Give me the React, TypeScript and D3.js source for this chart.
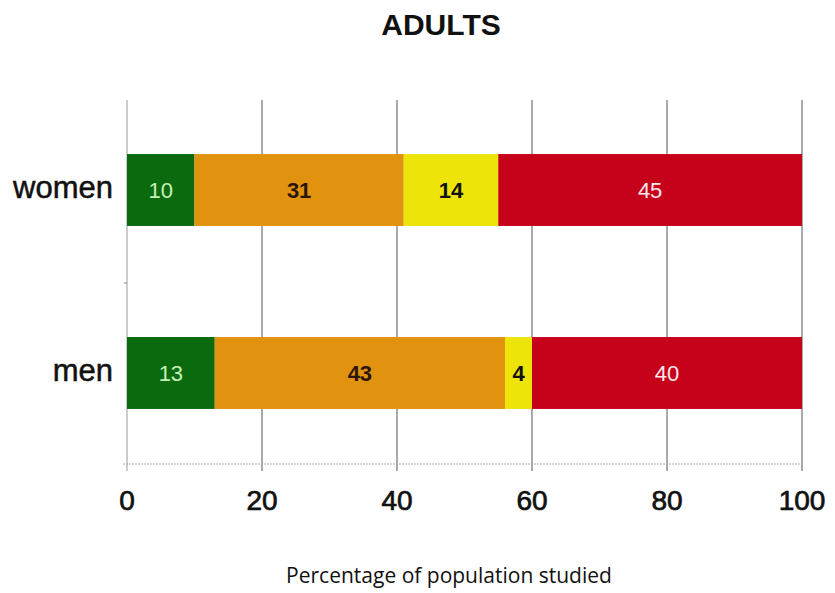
import React from "react";
import * as d3 from "d3";

const categories = ["women", "men"];
const segments = ["green", "orange", "yellow", "red"];
const womenValues = [10, 31, 14, 45];
const menValues = [13, 43, 4, 40];
const xTicks = [0, 20, 40, 60, 80, 100];
const colors = ["#0b6a0e", "#e1930f", "#ede40a", "#c5021a"];
const labelColors = ["#c6f0b8", "#2b1408", "#111111", "#ffe8ec"];

const W = 835, H = 593;
const FONT = "Liberation Sans, Arial, Helvetica, sans-serif";

export default function App() {
  const x = d3.scaleLinear().domain([0, 100]).range([127, 802]);
  const y = d3.scaleBand().domain(categories).range([118, 445]).paddingInner(0.607).paddingOuter(0.197);
  const data = [womenValues, menValues];
  return (
    <svg width={W} height={H} style={{ position: "absolute", left: 0, top: 0 }}>
      <rect width={W} height={H} fill="#fff" />
      <text x={441} y={35} textAnchor="middle" fontFamily={FONT} fontWeight="bold" fontSize={30} fill="#111">ADULTS</text>
      {xTicks.map((t) => (
        <line key={t} x1={x(t)} x2={x(t)} y1={100} y2={471} stroke={t === 0 ? "#9a9a9a" : "#555"} strokeWidth={1} />
      ))}
      <line x1={x(0) - 4} x2={x(100)} y1={464} y2={464} stroke="#aaa" strokeWidth={1} strokeDasharray="2,1" />
      <line x1={x(0) - 3} x2={x(0)} y1={283} y2={283} stroke="#888" />
      {categories.map((c, i) => {
        const stack = d3.cumsum(data[i]);
        const cy = y(c)! + y.bandwidth() / 2;
        return (
          <g key={c}>
            {data[i].map((v, j) => {
              const x0 = j === 0 ? 0 : stack[j - 1];
              const x1 = stack[j];
              return (
                <g key={segments[j]}>
                  <rect x={x(x0)} y={y(c)!} width={x(x1) - x(x0)} height={y.bandwidth()} fill={colors[j]} />
                  <text x={(x(x0) + x(x1)) / 2} y={cy + 8} textAnchor="middle"
                    fontFamily={FONT} fontSize={22}
                    fontWeight={j === 1 || j === 2 ? "bold" : "normal"} fill={labelColors[j]}>{v}</text>
                </g>
              );
            })}
            <text x={113} y={cy + 8} textAnchor="end" fontFamily={FONT} fontSize={31} fill="#111" stroke="#111" strokeWidth={0.5}>{c}</text>
          </g>
        );
      })}
      {xTicks.map((t) => (
        <text key={"l" + t} x={x(t)} y={510} textAnchor="middle" fontFamily={FONT} fontSize={28} fill="#111" stroke="#111" strokeWidth={0.7}>{t}</text>
      ))}
      <text x={449} y={583} textAnchor="middle" fontFamily="Open Sans, sans-serif" fontSize={21} fill="#111">Percentage of population studied</text>
    </svg>
  );
}
